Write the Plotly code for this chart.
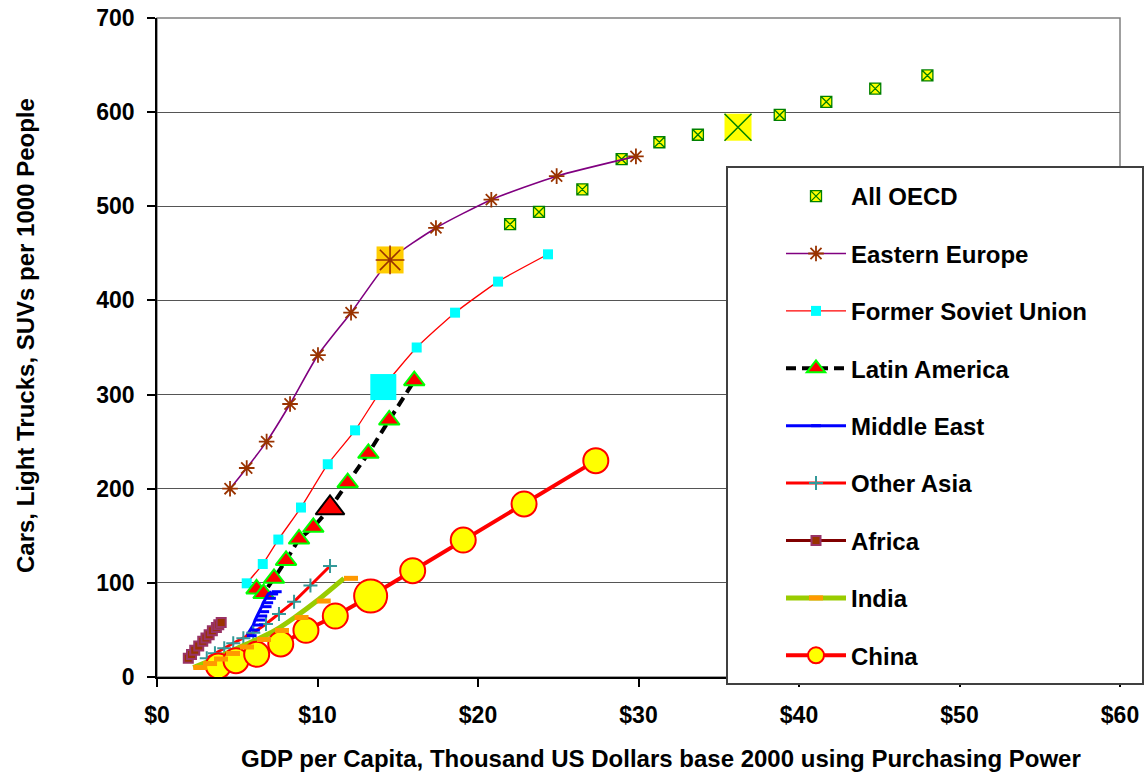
import plotly.graph_objects as go

# GDP per capita (thousand US$, base 2000, PPP) vs. cars, light trucks and SUVs per 1000 people
OECD_GDP = [22.0, 23.8, 26.5, 28.95, 31.3, 33.7, 36.2, 38.8, 41.7, 44.75, 48.0]
OECD_CARS = [481, 494, 518, 550, 568, 576, 584, 597, 611, 625, 639]

EE_GDP = [4.55, 5.59, 6.83, 8.29, 10.03, 12.09, 14.52, 17.38, 20.83, 24.9, 29.84]
EE_CARS = [200, 222, 250, 290, 342, 387, 443, 477, 507, 532, 553]

FSU_GDP = [5.59, 6.59, 7.56, 8.97, 10.64, 12.34, 14.1, 16.18, 18.57, 21.25, 24.36]
FSU_CARS = [99.5, 120, 146, 180, 226, 262, 308, 350, 387, 420, 449]

LA_GDP = [6.2, 6.64, 7.29, 8.04, 8.85, 9.74, 10.78, 11.88, 13.17, 14.47, 16.03]
LA_CARS = [93.5, 88.7, 104.8, 123.8, 146.6, 159, 179.5, 206.4, 237.6, 273, 314.7]

ME_GDP = [5.59, 5.79, 6.0, 6.11, 6.25, 6.37, 6.52, 6.62, 6.79, 6.93, 7.15]
ME_CARS = [43.9, 49.9, 55.2, 60.5, 64.8, 69.4, 74.7, 78.9, 83.6, 88.2, 90.6]

OA_GDP = [3.10, 3.61, 4.19, 4.75, 5.38, 6.0, 6.79, 7.60, 8.54, 9.56, 10.78]
OA_CARS = [19.9, 25.2, 30.5, 35.8, 41.1, 47.1, 56.3, 66.9, 80.0, 97.2, 117.9]

AF_GDP = [1.95, 2.15, 2.35, 2.6, 2.85, 3.05, 3.25, 3.45, 3.7, 3.85, 4.0]
AF_CARS = [20, 24, 28.5, 33, 38, 41.5, 45, 49, 52.5, 55.5, 58]

IN_GDP = [2.26, 2.87, 3.55, 4.30, 5.17, 6.23, 7.35, 8.57, 9.95, 11.65]
IN_CARS = [10.1, 14.3, 19.1, 25.0, 31.9, 39.8, 49.4, 63.2, 80.7, 104.8]

CN_GDP = [3.82, 4.92, 6.21, 7.71, 9.28, 11.11, 13.31, 15.93, 19.08, 22.87, 27.34]
CN_CARS = [11.7, 17.3, 24.1, 35.1, 49.6, 64.8, 86.0, 112.9, 145.5, 183.8, 229.8]

HIGHLIGHT = 6  # emphasised year on the long series

X_TICKS = [0, 10, 20, 30, 40, 50, 60]
X_LABELS = ["$0", "$10", "$20", "$30", "$40", "$50", "$60"]
Y_TICKS = [0, 100, 200, 300, 400, 500, 600, 700]

W, H = 1146, 772
MARGIN = dict(l=157, r=26, t=18, b=95)
PLOT_W = W - MARGIN["l"] - MARGIN["r"]
PLOT_H = H - MARGIN["t"] - MARGIN["b"]
X_RANGE = [0, 60]
UNITS_PER_PX = (X_RANGE[1] - X_RANGE[0]) / PLOT_W

FONT = "Arial"


def px_x(p):
    return (p - MARGIN["l"]) / PLOT_W


def px_y(p):
    return (H - MARGIN["b"] - p) / PLOT_H


fig = go.Figure()


def hl(seq):
    return [seq[HIGHLIGHT]]


# All OECD
fig.add_trace(go.Scatter(
    x=OECD_GDP, y=OECD_CARS, mode="markers", name="All OECD",
    legendgroup="oecd", legendrank=1,
    marker=dict(symbol="square-x", size=11, color="#FFFF00",
                line=dict(color="#008000", width=1.3))))
fig.add_trace(go.Scatter(
    x=hl(OECD_GDP), y=hl(OECD_CARS), mode="markers", showlegend=False,
    legendgroup="oecd",
    marker=dict(symbol="square", size=27, color="#FFFF00", line=dict(width=0))))
fig.add_trace(go.Scatter(
    x=hl(OECD_GDP), y=hl(OECD_CARS), mode="markers", showlegend=False,
    legendgroup="oecd",
    marker=dict(symbol="x-thin-open", size=27, color="#008000",
                line=dict(color="#008000", width=1.5))))

# Eastern Europe
fig.add_trace(go.Scatter(
    x=EE_GDP, y=EE_CARS, mode="lines+markers", name="Eastern Europe",
    legendgroup="ee", legendrank=2,
    line=dict(color="#800080", width=1.6, shape="spline", smoothing=0.6),
    marker=dict(symbol="asterisk-open", size=13, color="#993300",
                line=dict(color="#993300", width=1.8))))
fig.add_trace(go.Scatter(
    x=hl(EE_GDP), y=hl(EE_CARS), mode="markers", showlegend=False,
    legendgroup="ee",
    marker=dict(symbol="square", size=27, color="#FFCC00", line=dict(width=0))))
fig.add_trace(go.Scatter(
    x=hl(EE_GDP), y=hl(EE_CARS), mode="markers", showlegend=False,
    legendgroup="ee",
    marker=dict(symbol="asterisk-open", size=24, color="#993300",
                line=dict(color="#993300", width=1.6))))

# Former Soviet Union
fig.add_trace(go.Scatter(
    x=FSU_GDP, y=FSU_CARS, mode="lines+markers", name="Former Soviet Union",
    legendgroup="fsu", legendrank=3,
    line=dict(color="#FF0000", width=1.3, shape="spline", smoothing=0.5),
    marker=dict(symbol="square", size=10, color="#00FFFF", line=dict(width=0))))
fig.add_trace(go.Scatter(
    x=hl(FSU_GDP), y=hl(FSU_CARS), mode="markers", showlegend=False,
    legendgroup="fsu",
    marker=dict(symbol="square", size=26, color="#00FFFF", line=dict(width=0))))

# Latin America
fig.add_trace(go.Scatter(
    x=LA_GDP, y=LA_CARS, mode="lines+markers", name="Latin America",
    legendgroup="la", legendrank=4,
    line=dict(color="#000000", width=4, dash="10px,6px"),
    marker=dict(symbol="triangle-up", size=18, color="#FF0000",
                line=dict(color="#00FF00", width=2))))
fig.add_trace(go.Scatter(
    x=hl(LA_GDP), y=hl(LA_CARS), mode="markers", showlegend=False,
    legendgroup="la",
    marker=dict(symbol="triangle-up", size=25, color="#FF0000",
                line=dict(color="#000000", width=2))))

# Excel-style dash markers start at the point and run to the right,
# so their markers sit on slightly shifted overlay axes.
ME_SHIFT_PX = 5
IN_SHIFT_PX = 7

# Middle East
fig.add_trace(go.Scatter(
    x=ME_GDP, y=ME_CARS, mode="lines", showlegend=False, legendgroup="me",
    line=dict(color="#0000FF", width=3)))
fig.add_trace(go.Scatter(
    x=ME_GDP, y=ME_CARS, mode="markers", showlegend=False, legendgroup="me",
    xaxis="x2",
    marker=dict(symbol="line-ew-open", size=7, color="#0000FF",
                line=dict(color="#0000FF", width=3))))
fig.add_trace(go.Scatter(
    x=[None], y=[None], mode="lines+markers", name="Middle East",
    legendgroup="me", legendrank=5,
    line=dict(color="#0000FF", width=3),
    marker=dict(symbol="line-ew-open", size=7, color="#0000FF",
                line=dict(color="#0000FF", width=3))))

# Other Asia
fig.add_trace(go.Scatter(
    x=OA_GDP, y=OA_CARS, mode="lines+markers", name="Other Asia",
    legendgroup="oa", legendrank=6,
    line=dict(color="#FF0000", width=3),
    marker=dict(symbol="cross-thin-open", size=10, color="#339999",
                line=dict(color="#339999", width=2))))

# Africa
fig.add_trace(go.Scatter(
    x=AF_GDP, y=AF_CARS, mode="lines+markers", name="Africa",
    legendgroup="af", legendrank=7,
    line=dict(color="#800000", width=3),
    marker=dict(symbol="square", size=9, color="#993300",
                line=dict(color="#993366", width=2))))

# India
fig.add_trace(go.Scatter(
    x=IN_GDP, y=IN_CARS, mode="lines", showlegend=False, legendgroup="in",
    line=dict(color="#99CC00", width=5, shape="spline", smoothing=0.5)))
fig.add_trace(go.Scatter(
    x=IN_GDP, y=IN_CARS, mode="markers", showlegend=False, legendgroup="in",
    xaxis="x3",
    marker=dict(symbol="line-ew-open", size=10, color="#FF9900",
                line=dict(color="#FF9900", width=5))))
fig.add_trace(go.Scatter(
    x=[None], y=[None], mode="lines+markers", name="India",
    legendgroup="in", legendrank=8,
    line=dict(color="#99CC00", width=5),
    marker=dict(symbol="line-ew-open", size=10, color="#FF9900",
                line=dict(color="#FF9900", width=5))))

# China
fig.add_trace(go.Scatter(
    x=CN_GDP, y=CN_CARS, mode="lines+markers", name="China",
    legendgroup="cn", legendrank=9,
    line=dict(color="#FF0000", width=4),
    marker=dict(symbol="circle", size=25, color="#FFFF00",
                line=dict(color="#FF0000", width=2))))
fig.add_trace(go.Scatter(
    x=hl(CN_GDP), y=hl(CN_CARS), mode="markers", showlegend=False,
    legendgroup="cn",
    marker=dict(symbol="circle", size=33, color="#FFFF00",
                line=dict(color="#FF0000", width=2))))


def shifted_range(shift_px):
    d = shift_px * UNITS_PER_PX
    return [X_RANGE[0] - d, X_RANGE[1] - d]


tick_font = dict(family=FONT, size=23, color="#000000", weight="bold")
title_font = dict(family=FONT, size=24, color="#000000", weight="bold")

fig.update_layout(
    width=W, height=H, margin=MARGIN,
    paper_bgcolor="#FFFFFF", plot_bgcolor="#FFFFFF",
    showlegend=True,
    xaxis=dict(range=X_RANGE, tickvals=X_TICKS, ticktext=X_LABELS,
               showgrid=False, zeroline=False, automargin=False,
               showline=True, linecolor="#000000", linewidth=1.5,
               ticks="outside", ticklen=8, tickcolor="#000000", tickwidth=1.5,
               tickfont=tick_font, ticklabelstandoff=9),
    xaxis2=dict(range=shifted_range(ME_SHIFT_PX), overlaying="x",
                visible=False, anchor="y", automargin=False),
    xaxis3=dict(range=shifted_range(IN_SHIFT_PX), overlaying="x",
                visible=False, anchor="y", automargin=False),
    yaxis=dict(range=[0, 700], tickvals=Y_TICKS, automargin=False,
               showgrid=True, gridcolor="#555555", gridwidth=1,
               zeroline=False,
               showline=True, linecolor="#000000", linewidth=1.5,
               ticks="outside", ticklen=8, tickcolor="#000000", tickwidth=1.5,
               tickfont=tick_font, ticklabelstandoff=8),
    legend=dict(x=px_x(781), y=px_y(174), xanchor="left", yanchor="top",
                bgcolor="rgba(0,0,0,0)", borderwidth=0,
                traceorder="grouped", tracegroupgap=23.2, itemwidth=60,
                font=title_font),
    shapes=[
        # plot frame
        dict(type="rect", xref="paper", yref="paper", x0=0, y0=0, x1=1, y1=1,
             line=dict(color="#808080", width=1.5), layer="below"),
        # legend panel
        dict(type="rect", xref="paper", yref="paper",
             x0=px_x(727), x1=px_x(1143), y0=px_y(684), y1=px_y(167),
             fillcolor="#FFFFFF", line=dict(color="#404040", width=2),
             layer="above"),
    ],
    annotations=[
        dict(text="GDP per Capita, Thousand US Dollars base 2000 using Purchasing Power",
             xref="paper", yref="paper", x=px_x(661), y=px_y(758),
             xanchor="center", yanchor="middle", showarrow=False,
             font=title_font),
        dict(text="Cars, Light Trucks, SUVs per 1000 People",
             xref="paper", yref="paper", x=px_x(25), y=px_y(336),
             xanchor="center", yanchor="middle", showarrow=False,
             textangle=-90, font=title_font),
    ],
)

fig.write_html("out.html")
